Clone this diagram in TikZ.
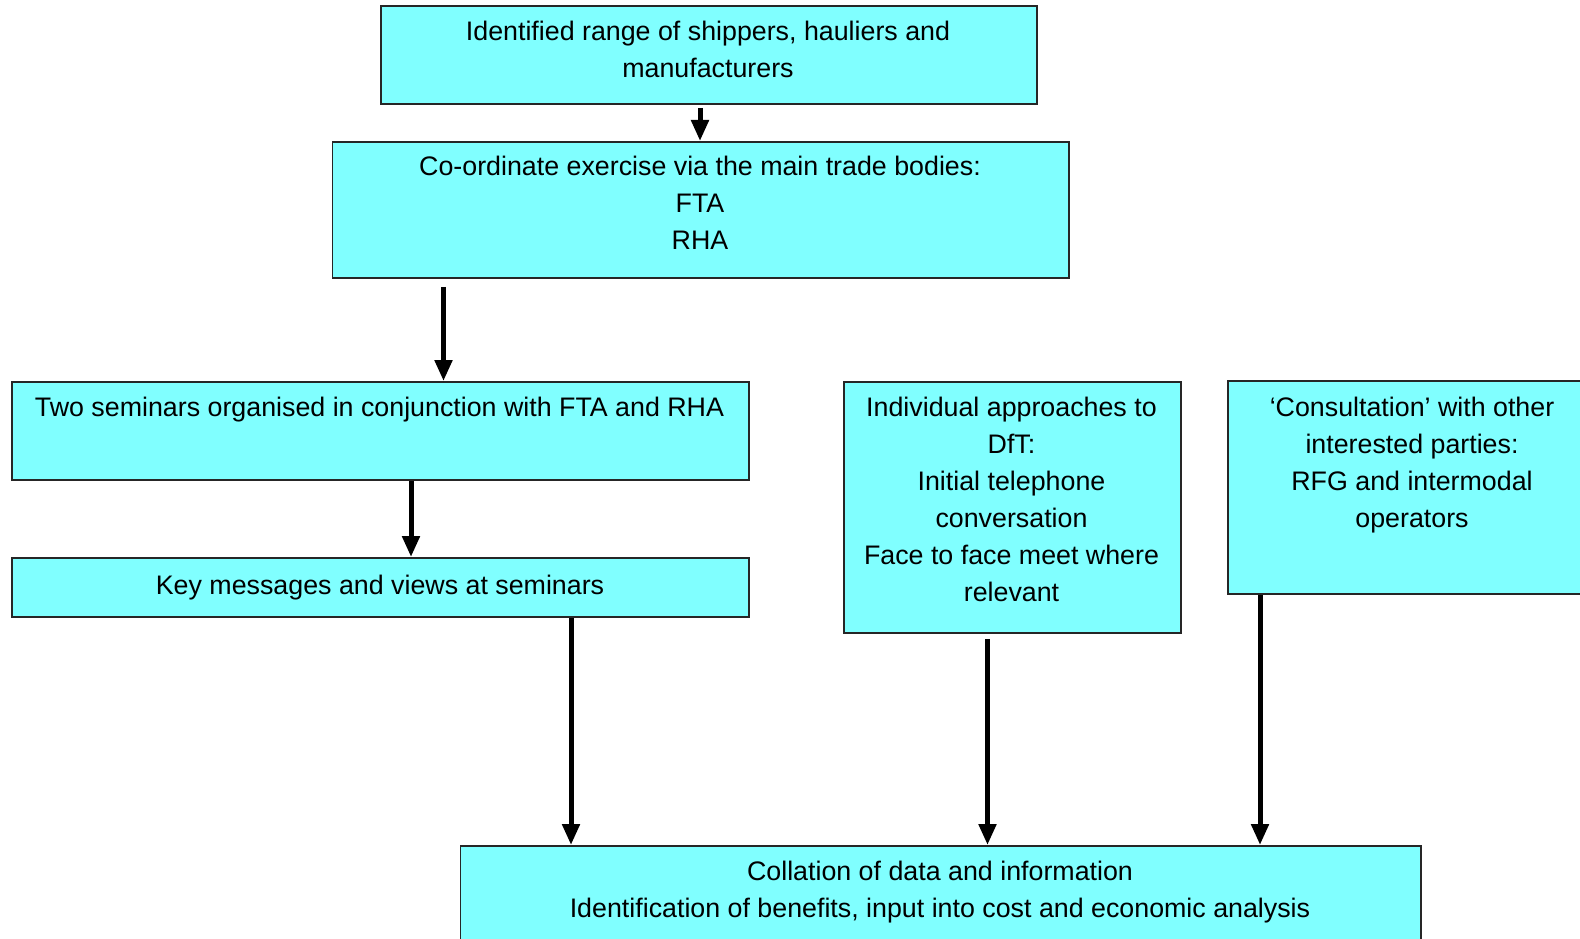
\documentclass[tikz,border=0pt]{standalone}
\usepackage{fontspec}
\setmainfont{Liberation Sans}
\usetikzlibrary{arrows.meta}
\definecolor{boxcyan}{RGB}{128,255,255}
\tikzset{
  box/.style={draw=black!85, line width=1.8pt, fill=boxcyan, inner sep=0pt, anchor=north west},
  txt/.style={anchor=north, inner sep=0pt, align=center, font=\fontsize{26.8}{37}\selectfont},
  arr/.style={line width=5pt, -{Triangle[length=21pt,width=17pt]}},
}
\begin{document}
\begin{tikzpicture}[x=1pt,y=-1pt]
\clip (0,0) rectangle (1580,939);
\fill[white] (0,0) rectangle (1580,939);
% boxes
\node[box, minimum width=656pt, minimum height=98pt] (b1) at (380,5) {};
\node[box, minimum width=736.5pt, minimum height=136pt] (b2) at (331.5,141) {};
\node[box, minimum width=737pt, minimum height=98pt] (b3) at (11,381) {};
\node[box, minimum width=737pt, minimum height=59pt] (b4) at (11,557) {};
\node[box, minimum width=337pt, minimum height=251pt] (b5) at (843,381) {};
\node[box, minimum width=373pt, minimum height=213pt] (b6) at (1227,380) {};
\node[box, minimum width=960.5pt, minimum height=120pt] (b7) at (459.5,845) {};
% texts
\node[txt] (t1) at (708,14.8) {\strut Identified range of shippers, hauliers and\\manufacturers};
\node[txt] (t2) at (700,149.6) {\strut Co-ordinate exercise via the main trade bodies:\\FTA\\RHA};
\node[txt] (t3) at (379.5,390.6) {\strut Two seminars organised in conjunction with FTA and RHA};
\node[txt] (t4) at (380,568.1) {\strut Key messages and views at seminars};
\node[txt] (t5) at (1011.5,390.6) {\strut Individual approaches to\\DfT:\\Initial telephone\\conversation\\Face to face meet where\\relevant};
\node[txt] (t6) at (1412,390.6) {\strut ‘Consultation’ with other\\interested parties:\\RFG and intermodal\\operators};
\node[txt] (t7) at (940,854.1) {\strut Collation of data and information\\Identification of benefits, input into cost and economic analysis};
% arrows
\coordinate (x1) at (700,0);
\coordinate (x2) at (443.5,0);
\coordinate (x3) at (411,0);
\coordinate (x4) at (571,0);
\coordinate (x5) at (987.5,0);
\coordinate (x6) at (1260,0);
\draw[arr] ([yshift=-3pt]b1.south -| x1) -- (b2.north -| x1);
\draw[arr] ([yshift=-8pt]b2.south -| x2) -- (b3.north -| x2);
\draw[arr] (b3.south -| x3) -- (b4.north -| x3);
\draw[arr] (b4.south -| x4) -- (b7.north -| x4);
\draw[arr] ([yshift=-5pt]b5.south -| x5) -- (b7.north -| x5);
\draw[arr] (b6.south -| x6) -- (b7.north -| x6);
\end{tikzpicture}
\end{document}
